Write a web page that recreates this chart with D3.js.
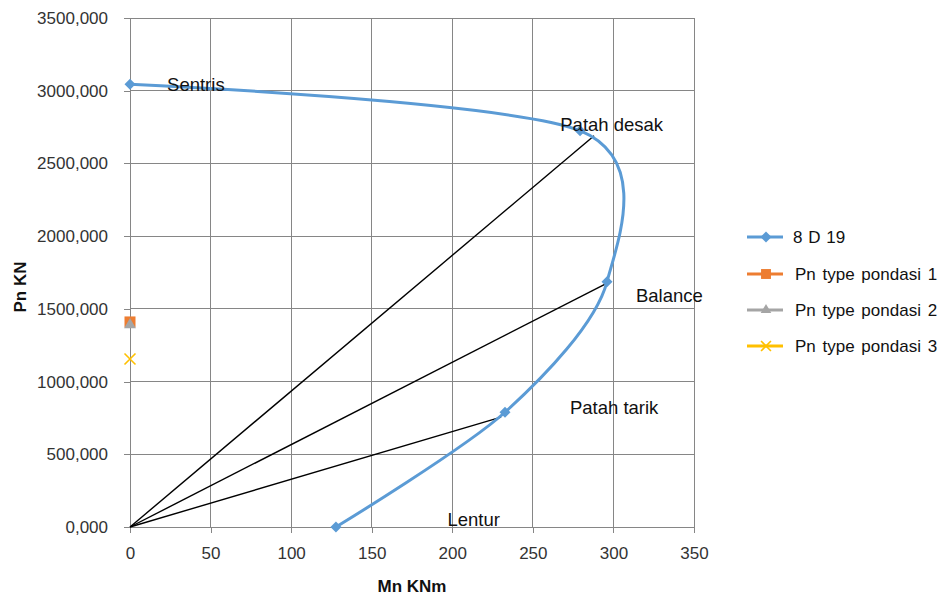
<!DOCTYPE html>
<html><head><meta charset="utf-8">
<script src="https://cdn.jsdelivr.net/npm/d3@7"></script>
<style>body{margin:0;background:#fff;} svg{display:block;font-family:"Liberation Sans",Arial,sans-serif;}</style>
</head><body><svg id="c" width="950" height="598"></svg>
<script>
// Interaction diagram data
const curveMn = [0, 279.3, 296.0, 232.7, 127.8];
const curvePn = [3045, 2725, 1686, 789, 0];
const pointLabels = ["Sentris", "Patah desak", "Balance", "Patah tarik", "Lentur"];
const labelMn = [23, 267, 314, 273, 197];
const labelPn = [2995, 2726, 1548, 778, 5];
const rayMn = [288.0, 295.8, 230.3];
const rayPn = [2690, 1676, 755];
const pondasiNames = ["Pn type pondasi 1", "Pn type pondasi 2", "Pn type pondasi 3"];
const pondasiMn = [0, 0, 0];
const pondasiPn = [1410, 1390, 1155];
const seriesNames = ["8 D 19"].concat(pondasiNames);
const xTicks = [0, 50, 100, 150, 200, 250, 300, 350];
const yTicks = [0, 500, 1000, 1500, 2000, 2500, 3000, 3500];

const svg = d3.select("#c");
const L = 130, R = 694, T = 18, B = 527;
const x = d3.scaleLinear().domain([0, 350]).range([L, R]);
const y = d3.scaleLinear().domain([0, 3500]).range([B, T]);
const grid = "#868686";

// gridlines
svg.append("g").selectAll("line").data(xTicks).join("line")
  .attr("x1", d => x(d)).attr("x2", d => x(d)).attr("y1", T).attr("y2", B)
  .attr("stroke", grid).attr("stroke-width", 1).attr("shape-rendering", "crispEdges");
svg.append("g").selectAll("line").data(yTicks).join("line")
  .attr("x1", L).attr("x2", R).attr("y1", d => y(d)).attr("y2", d => y(d))
  .attr("stroke", grid).attr("stroke-width", 1).attr("shape-rendering", "crispEdges");

// axes
const fmtY = d => d3.format(".3f")(d).replace(".", ",");
const xAxis = svg.append("g").attr("transform", `translate(0,${B})`)
  .call(d3.axisBottom(x).tickValues(xTicks).tickSize(6).tickSizeOuter(0).tickPadding(14));
const yAxis = svg.append("g").attr("transform", `translate(${L},0)`)
  .call(d3.axisLeft(y).tickValues(yTicks).tickFormat(fmtY).tickSize(6).tickSizeOuter(0).tickPadding(16));
[xAxis, yAxis].forEach(a => {
  a.select(".domain").attr("stroke", grid).attr("shape-rendering", "crispEdges");
  a.selectAll(".tick line").attr("stroke", grid).attr("shape-rendering", "crispEdges");
  a.selectAll("text").attr("font-size", 17).attr("fill", "#333")
    .attr("font-family", "'Liberation Sans', Arial, sans-serif");
});

// axis titles
svg.append("text").attr("x", x(175)).attr("y", 592).attr("text-anchor", "middle")
  .attr("font-weight", "bold").attr("font-size", 17).attr("fill", "#111").text("Mn KNm");
svg.append("text").attr("transform", `translate(26,${y(1650)}) rotate(-90)`).attr("text-anchor", "middle")
  .attr("font-weight", "bold").attr("font-size", 17).attr("fill", "#111").text("Pn KN");

// rays from origin
svg.append("g").selectAll("line").data(rayMn).join("line")
  .attr("x1", x(0)).attr("y1", y(0)).attr("x2", d => x(d)).attr("y2", (d, i) => y(rayPn[i]))
  .attr("stroke", "#000").attr("stroke-width", 1.4);

// interaction curve
const pts = curveMn.map((m, i) => [m, curvePn[i]]);
const blue = "#5b9bd5";
svg.append("path").datum(pts)
  .attr("d", d3.line().x(d => x(d[0])).y(d => y(d[1])).curve(d3.curveCardinal.tension(0.12)))
  .attr("fill", "none").attr("stroke", blue).attr("stroke-width", 3);
const diamond = "M0,-5.5L5.5,0L0,5.5L-5.5,0Z";
svg.append("g").selectAll("path").data(pts).join("path")
  .attr("d", diamond).attr("transform", d => `translate(${x(d[0])},${y(d[1])})`).attr("fill", blue);

// point labels
svg.append("g").selectAll("text").data(pointLabels).join("text")
  .attr("x", (d, i) => x(labelMn[i])).attr("y", (d, i) => y(labelPn[i]))
  .attr("font-size", 18.5).attr("fill", "#111").text(d => d);

// pondasi points
const colors = ["#ed7d31", "#a5a5a5", "#ffc000"];
const drawMarker = (g, k, cx, cy, scale) => {
  if (k === 0) {
    g.append("rect").attr("x", cx - 5.5 * scale).attr("y", cy - 5.5 * scale)
      .attr("width", 11 * scale).attr("height", 11 * scale).attr("fill", colors[0]);
  } else if (k === 1) {
    g.append("path").attr("d", d3.symbol().type(d3.symbolTriangle).size(60 * scale * scale)())
      .attr("transform", `translate(${cx},${cy})`).attr("fill", colors[1]);
  } else {
    const s = 5.5 * scale;
    g.append("path").attr("d", `M${cx - s},${cy - s}L${cx + s},${cy + s}M${cx - s},${cy + s}L${cx + s},${cy - s}`)
      .attr("stroke", colors[2]).attr("stroke-width", 1.6).attr("fill", "none");
  }
};
const pg = svg.append("g");
pondasiPn.forEach((p, k) => drawMarker(pg, k, x(pondasiMn[k]), y(p), 1));

// legend
const legY = [237, 274, 310, 346];
const lg = svg.append("g");
seriesNames.forEach((name, i) => {
  const cy = legY[i];
  const col = i === 0 ? blue : colors[i - 1];
  lg.append("line").attr("x1", 747).attr("x2", 783).attr("y1", cy).attr("y2", cy)
    .attr("stroke", col).attr("stroke-width", 3);
  if (i === 0) {
    lg.append("path").attr("d", diamond).attr("transform", `translate(766,${cy})`).attr("fill", blue);
  } else {
    drawMarker(lg, i - 1, 766, cy, 0.9);
  }
  lg.append("text").attr("x", i === 0 ? 793 : 795).attr("y", cy + 6)
    .attr("font-size", 17).attr("fill", "#111").attr("word-spacing", i === 0 ? 1 : 2).text(name);
});
</script></body></html>
